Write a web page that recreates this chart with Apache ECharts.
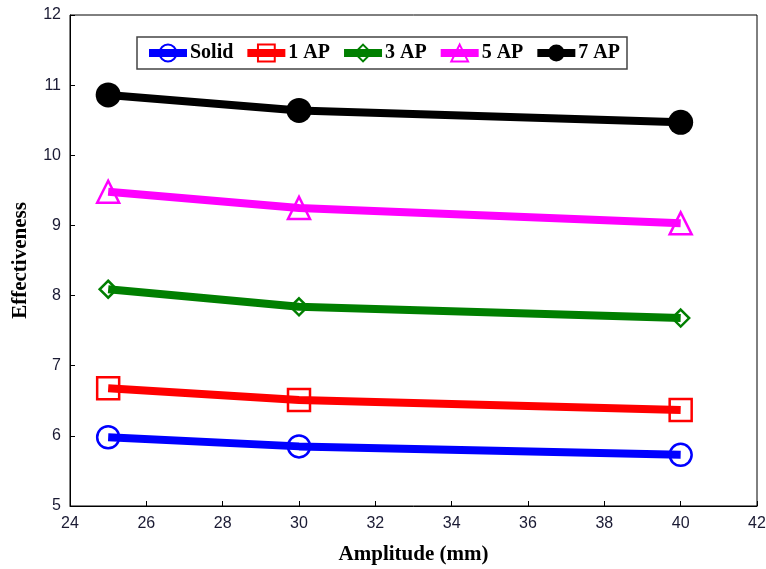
<!DOCTYPE html>
<html>
<head>
<meta charset="utf-8">
<script src="https://cdn.jsdelivr.net/npm/echarts@6/dist/echarts.min.js"></script>
<style>
    html, body { margin: 0; padding: 0; background: #fff; }
    #chart { width: 766px; height: 569px; }
</style>
</head>
<body>
<div id="chart"></div>
<script>
// Data
var amplitudes = [25, 30, 40];
var seriesNames = ['Solid', '1 AP', '3 AP', '5 AP', '7 AP'];
var solid = [5.98, 5.85, 5.73];
var ap1 = [6.68, 6.51, 6.37];
var ap3 = [8.09, 7.84, 7.68];
var ap5 = [9.48, 9.25, 9.03];
var ap7 = [10.86, 10.64, 10.47];

var chart = echarts.init(document.getElementById('chart'));

// Build one line series
var makeSeries = function (name, values, color, symbol, size, filled) {
    return {
        name: name,
        type: 'line',
        data: amplitudes.map(function (a, i) { return [a, values[i]]; }),
        symbol: symbol,
        symbolSize: size,
        showAllSymbol: true,
        lineStyle: { color: color, width: 8 },
        itemStyle: {
            color: filled ? color : 'rgba(255,255,255,0)',
            borderColor: color,
            borderWidth: filled ? 0 : 2.5
        },
        emphasis: { disabled: true },
        z: 2
    };
};

var axisTitleFont = {
    fontFamily: '"Liberation Serif", "Times New Roman", serif',
    fontWeight: 'bold',
    fontSize: 21,
    color: '#000'
};

chart.setOption({
    animation: false,
    textStyle: { fontFamily: '"Liberation Sans", Arial, sans-serif' },

    grid: {
        left: 70,
        right: 9,
        top: 15,
        bottom: 63,
        outerBoundsMode: 'none',
        show: true,
        borderColor: '#000',
        borderWidth: 1
    },

    legend: {
        data: seriesNames,
        left: 137,
        top: 37,
        itemWidth: 38,
        itemHeight: 21,
        itemGap: 10,
        padding: [6, 7, 6, 8],
        borderColor: '#444',
        borderWidth: 1.5,
        lineStyle: { width: 8 },
        textStyle: {
            fontFamily: '"Liberation Serif", "Times New Roman", serif',
            fontWeight: 'bold',
            fontSize: 20,
            color: '#000',
            padding: [0, 0, 0, -2]
        }
    },

    xAxis: {
        type: 'value',
        min: 24,
        max: 42,
        interval: 2,
        name: 'Amplitude (mm)',
        nameLocation: 'middle',
        nameGap: 38,
        nameTextStyle: axisTitleFont,
        axisLine: { lineStyle: { color: '#000', width: 1 } },
        axisTick: { inside: true, length: 5, lineStyle: { color: '#000' } },
        axisLabel: { color: '#1a1a33', fontSize: 16, margin: 10 },
        splitLine: { show: false }
    },

    yAxis: {
        type: 'value',
        min: 5,
        max: 12,
        interval: 1,
        name: 'Effectiveness',
        nameLocation: 'middle',
        nameGap: 39,
        nameTextStyle: axisTitleFont,
        axisLine: { show: true, lineStyle: { color: '#000', width: 1 } },
        axisTick: { show: true, inside: true, length: 5, lineStyle: { color: '#000' } },
        axisLabel: { color: '#1a1a33', fontSize: 16, margin: 9 },
        splitLine: { show: false }
    },

    series: [
        makeSeries('Solid', solid, '#0000ff', 'circle', 22, false),
        makeSeries('1 AP', ap1, '#ff0000', 'rect', 22, false),
        makeSeries('3 AP', ap3, '#007f00', 'diamond', 17, false),
        makeSeries('5 AP', ap5, '#ff00ff', 'triangle', 22, false),
        makeSeries('7 AP', ap7, '#000000', 'circle', 25, true)
    ]
});
</script>
</body>
</html>
